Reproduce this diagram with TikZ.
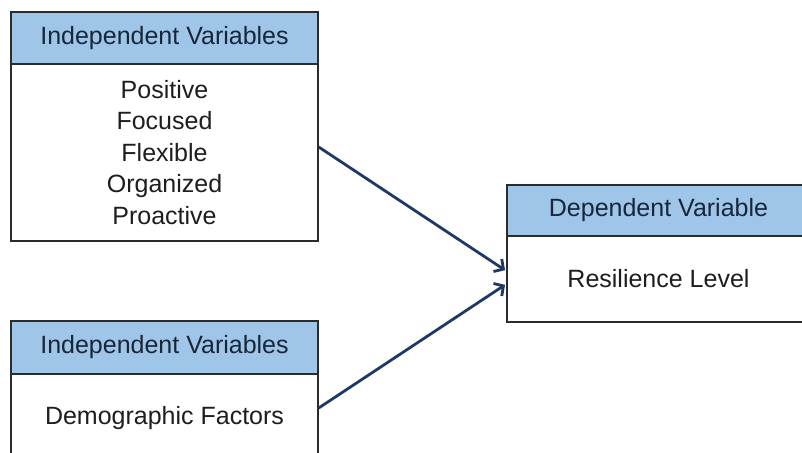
\documentclass[tikz,border=0pt]{standalone}
\usepackage{fontspec}
\setmainfont{Liberation Sans}
\usetikzlibrary{arrows.meta}
\definecolor{hdr}{HTML}{9FC5E8}
\definecolor{edge}{HTML}{2B2B2B}
\definecolor{arr}{HTML}{1F3864}
\definecolor{txt}{HTML}{1E1E1E}
\definecolor{htxt}{HTML}{17263A}
\begin{document}
\begin{tikzpicture}[x=1pt,y=-1pt,
  box/.style={draw=edge,line width=1.4pt,rectangle,inner sep=0pt,
    font=\fontsize{25}{31.5}\selectfont,text=txt,align=center},
  head/.style={box,fill=hdr,text=htxt},
  body/.style={box,fill=white},
  link/.style={draw=arr,line width=2.8pt,shorten >=1.5pt,
    -{Straight Barb[length=7pt,width=15pt,line width=2.8pt]}}]
\useasboundingbox (0,0) rectangle (802,452);
\clip (0,0) rectangle (802,452);
\fill[white] (0,0) rectangle (802,452);
% top-left group
\node[body,minimum width=307pt,minimum height=177pt] (b1) at (164.5,152.5)
  {Positive\\Focused\\Flexible\\Organized\\Proactive};
\node[head,minimum width=307pt,minimum height=52pt] (h1) at (164.5,38) {Independent Variables};
% bottom-left group
\node[body,minimum width=307pt,minimum height=88pt] (b2) at (164.5,418) {Demographic Factors};
\node[head,minimum width=307pt,minimum height=53pt] (h2) at (164.5,347.5) {Independent Variables};
% right group
\node[body,minimum width=303pt,minimum height=86pt] (b3) at (658.5,279) {Resilience Level};
\node[head,minimum width=303pt,minimum height=51pt] (h3) at (658.5,210.5) {Dependent Variable};
% connectors
\draw[link] ([yshift=5.5pt]b1.east) -- ([yshift=8pt]b3.west);
\draw[link] ([yshift=10pt]b2.east) -- ([yshift=-5pt]b3.west);
\end{tikzpicture}
\end{document}
